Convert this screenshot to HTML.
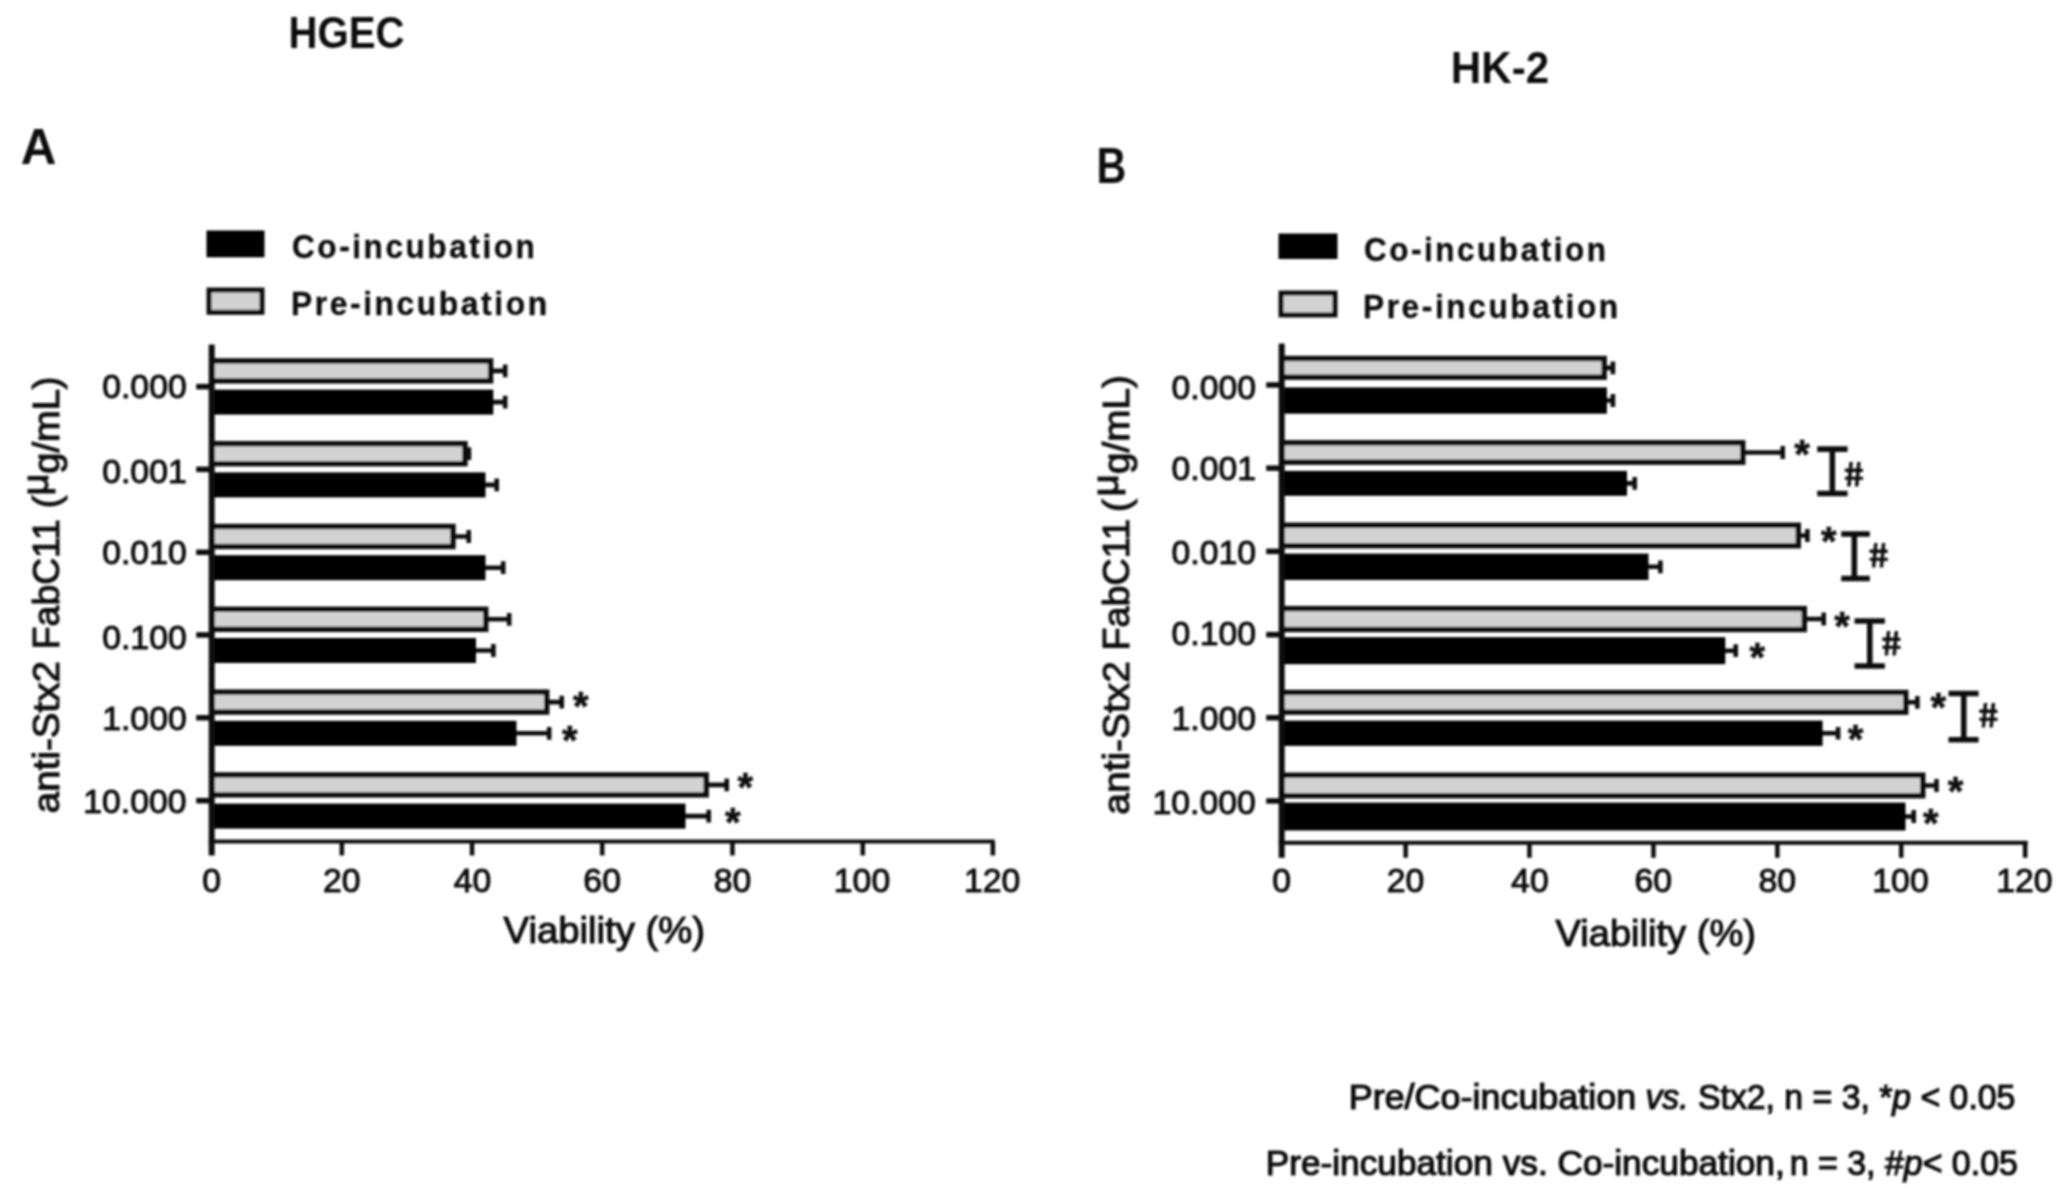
<!DOCTYPE html>
<html lang="en"><head><meta charset="utf-8"><title>Cell viability: HGEC and HK-2</title>
<style>
html,body{margin:0;padding:0;background:#fff;}
body{width:2070px;height:1196px;overflow:hidden;}
svg{display:block;font-family:"Liberation Sans", sans-serif;fill:#111;}
</style></head><body>
<svg width="2070" height="1196" viewBox="0 0 2070 1196">
<defs><filter id="bl" x="-2%" y="-2%" width="104%" height="104%"><feGaussianBlur stdDeviation="1.0"/></filter></defs>
<rect width="2070" height="1196" fill="#fff"/>
<g filter="url(#bl)">
<path d="M492.3 370.9H505.2M505.2 364.5V377.3" stroke="#111" stroke-width="4.6" fill="none"/>
<rect x="211.7" y="360.9" width="278.9" height="20.0" fill="#d2d2d2" stroke="#111" stroke-width="5.4"/>
<path d="M492.3 402.1H505.2M505.2 395.7V408.5" stroke="#111" stroke-width="4.6" fill="none"/>
<rect x="211.7" y="389.6" width="281.6" height="25.0" fill="#000"/>
<path d="M466.7 453.7H468.9M468.9 447.3V460.1" stroke="#111" stroke-width="4.6" fill="none"/>
<rect x="211.7" y="443.7" width="253.3" height="20.0" fill="#d2d2d2" stroke="#111" stroke-width="5.4"/>
<path d="M484.5 484.9H496.7M496.7 478.5V491.3" stroke="#111" stroke-width="4.6" fill="none"/>
<rect x="211.7" y="472.4" width="273.8" height="25.0" fill="#000"/>
<path d="M454.7 536.5H468.7M468.7 530.1V542.9" stroke="#111" stroke-width="4.6" fill="none"/>
<rect x="211.7" y="526.5" width="241.3" height="20.0" fill="#d2d2d2" stroke="#111" stroke-width="5.4"/>
<path d="M484.5 567.7H503.2M503.2 561.3V574.1" stroke="#111" stroke-width="4.6" fill="none"/>
<rect x="211.7" y="555.2" width="273.8" height="25.0" fill="#000"/>
<path d="M487.5 619.3H509.2M509.2 612.9V625.7" stroke="#111" stroke-width="4.6" fill="none"/>
<rect x="211.7" y="609.3" width="274.1" height="20.0" fill="#d2d2d2" stroke="#111" stroke-width="5.4"/>
<path d="M475.0 650.5H493.4M493.4 644.1V656.9" stroke="#111" stroke-width="4.6" fill="none"/>
<rect x="211.7" y="638.0" width="264.3" height="25.0" fill="#000"/>
<path d="M548.4 702.1H561.7M561.7 695.7V708.5" stroke="#111" stroke-width="4.6" fill="none"/>
<rect x="211.7" y="692.1" width="335.0" height="20.0" fill="#d2d2d2" stroke="#111" stroke-width="5.4"/>
<path d="M515.5 733.3H549.2M549.2 726.9V739.7" stroke="#111" stroke-width="4.6" fill="none"/>
<rect x="211.7" y="720.8" width="304.8" height="25.0" fill="#000"/>
<text transform="translate(573.10,720.20) scale(1.0000,1)" font-size="40.00" font-weight="bold" stroke="#111" stroke-width="0.6">*</text>
<text transform="translate(562.10,754.20) scale(1.0000,1)" font-size="40.00" font-weight="bold" stroke="#111" stroke-width="0.6">*</text>
<path d="M707.9 784.9H726.7M726.7 778.5V791.3" stroke="#111" stroke-width="4.6" fill="none"/>
<rect x="211.7" y="774.9" width="494.5" height="20.0" fill="#d2d2d2" stroke="#111" stroke-width="5.4"/>
<path d="M684.5 816.1H708.7M708.7 809.7V822.5" stroke="#111" stroke-width="4.6" fill="none"/>
<rect x="211.7" y="803.6" width="473.8" height="25.0" fill="#000"/>
<text transform="translate(737.50,801.00) scale(1.0000,1)" font-size="40.00" font-weight="bold" stroke="#111" stroke-width="0.6">*</text>
<text transform="translate(725.10,836.00) scale(1.0000,1)" font-size="40.00" font-weight="bold" stroke="#111" stroke-width="0.6">*</text>
<rect x="208.7" y="344.5" width="6" height="511.0" fill="#111"/>
<rect x="208.7" y="839.5" width="785.8" height="4" fill="#111"/>
<text transform="translate(202.24,892.16) scale(1.0000,1)" font-size="33.80" font-weight="normal" stroke="#111" stroke-width="1.0">0</text>
<rect x="339.6" y="841.5" width="4.5" height="14.0" fill="#111"/>
<text transform="translate(322.97,892.16) scale(1.0000,1)" font-size="33.80" font-weight="normal" stroke="#111" stroke-width="1.0">20</text>
<rect x="469.8" y="841.5" width="4.5" height="14.0" fill="#111"/>
<text transform="translate(453.68,892.16) scale(1.0000,1)" font-size="33.80" font-weight="normal" stroke="#111" stroke-width="1.0">40</text>
<rect x="600.0" y="841.5" width="4.5" height="14.0" fill="#111"/>
<text transform="translate(583.37,892.16) scale(1.0000,1)" font-size="33.80" font-weight="normal" stroke="#111" stroke-width="1.0">60</text>
<rect x="730.2" y="841.5" width="4.5" height="14.0" fill="#111"/>
<text transform="translate(713.74,892.16) scale(1.0000,1)" font-size="33.80" font-weight="normal" stroke="#111" stroke-width="1.0">80</text>
<rect x="860.5" y="841.5" width="4.5" height="14.0" fill="#111"/>
<text transform="translate(833.80,892.16) scale(1.0000,1)" font-size="33.80" font-weight="normal" stroke="#111" stroke-width="1.0">100</text>
<rect x="990.6" y="841.5" width="4.5" height="14.0" fill="#111"/>
<text transform="translate(964.00,892.16) scale(1.0000,1)" font-size="33.80" font-weight="normal" stroke="#111" stroke-width="1.0">120</text>
<rect x="196.2" y="383.9" width="13.5" height="5.5" fill="#111"/>
<text transform="translate(102.15,398.36) scale(1.0000,1)" font-size="33.80" font-weight="normal" stroke="#111" stroke-width="1.0">0.000</text>
<rect x="196.2" y="466.6" width="13.5" height="5.5" fill="#111"/>
<text transform="translate(102.15,482.96) scale(1.0000,1)" font-size="33.80" font-weight="normal" stroke="#111" stroke-width="1.0">0.001</text>
<rect x="196.2" y="549.5" width="13.5" height="5.5" fill="#111"/>
<text transform="translate(102.15,564.36) scale(1.0000,1)" font-size="33.80" font-weight="normal" stroke="#111" stroke-width="1.0">0.010</text>
<rect x="196.2" y="632.2" width="13.5" height="5.5" fill="#111"/>
<text transform="translate(102.15,648.66) scale(1.0000,1)" font-size="33.80" font-weight="normal" stroke="#111" stroke-width="1.0">0.100</text>
<rect x="196.2" y="715.0" width="13.5" height="5.5" fill="#111"/>
<text transform="translate(102.15,730.36) scale(1.0000,1)" font-size="33.80" font-weight="normal" stroke="#111" stroke-width="1.0">1.000</text>
<rect x="196.2" y="797.9" width="13.5" height="5.5" fill="#111"/>
<text transform="translate(83.22,812.66) scale(1.0000,1)" font-size="33.80" font-weight="normal" stroke="#111" stroke-width="1.0">10.000</text>
<rect x="206.5" y="230.5" width="58.0" height="26.80000000000001" fill="#000"/>
<rect x="209.0" y="290.0" width="53.0" height="22.30000000000001" fill="#d2d2d2" stroke="#111" stroke-width="5"/>
<text transform="translate(291.94,257.50) scale(0.9561,1)" font-size="33.00" font-weight="bold" font-style="normal" stroke="#111" stroke-width="0.4" letter-spacing="2.7" xml:space="preserve">Co-incubation</text>
<text transform="translate(290.98,314.50) scale(0.9630,1)" font-size="33.00" font-weight="bold" font-style="normal" stroke="#111" stroke-width="0.4" letter-spacing="2.7" xml:space="preserve">Pre-incubation</text>
<text transform="translate(503.52,942.70) scale(1.0274,1)" font-size="37.30" font-weight="normal" font-style="normal" stroke="#111" stroke-width="1.1" xml:space="preserve">Viability (%)</text>
<text transform="translate(58.50,813.24) rotate(-90) scale(1.0342,1)" font-size="37.30" font-weight="normal" font-style="normal" stroke="#111" stroke-width="1.1" xml:space="preserve">anti-Stx2</text>
<text transform="translate(58.50,649.19) rotate(-90) scale(1.0014,1)" font-size="37.30" font-weight="normal" font-style="normal" stroke="#111" stroke-width="1.1" xml:space="preserve">FabC11</text>
<text transform="translate(58.50,508.28) rotate(-90) scale(1.0202,1)" font-size="37.30" font-weight="normal" font-style="normal" stroke="#111" stroke-width="1.1" xml:space="preserve">(<tspan font-size="100%" dx="0" dy="-10.5">μ</tspan><tspan dy="10.5">g</tspan>/mL)</text>
<path d="M1605.9 367.9H1612.9M1612.9 361.5V374.2" stroke="#111" stroke-width="4.6" fill="none"/>
<rect x="1281.7" y="358.5" width="322.5" height="18.7" fill="#d2d2d2" stroke="#111" stroke-width="5.4"/>
<path d="M1605.9 400.5H1612.9M1612.9 394.1V406.9" stroke="#111" stroke-width="4.6" fill="none"/>
<rect x="1281.7" y="387.4" width="325.2" height="26.3" fill="#000"/>
<path d="M1744.5 452.5H1782.7M1782.7 446.1V458.9" stroke="#111" stroke-width="4.6" fill="none"/>
<rect x="1281.7" y="442.8" width="461.1" height="19.4" fill="#d2d2d2" stroke="#111" stroke-width="5.4"/>
<path d="M1626.0 483.4H1634.7M1634.7 477.0V489.8" stroke="#111" stroke-width="4.6" fill="none"/>
<rect x="1281.7" y="470.9" width="345.3" height="24.9" fill="#000"/>
<text transform="translate(1794.20,467.90) scale(1.0000,1)" font-size="40.00" font-weight="bold" stroke="#111" stroke-width="0.6">*</text>
<path d="M1800.0 535.5H1807.4M1807.4 529.1V541.9" stroke="#111" stroke-width="4.6" fill="none"/>
<rect x="1281.7" y="525.2" width="516.6" height="20.6" fill="#d2d2d2" stroke="#111" stroke-width="5.4"/>
<path d="M1647.5 566.8H1660.4M1660.4 560.4V573.2" stroke="#111" stroke-width="4.6" fill="none"/>
<rect x="1281.7" y="553.6" width="366.8" height="26.4" fill="#000"/>
<text transform="translate(1821.00,555.40) scale(1.0000,1)" font-size="40.00" font-weight="bold" stroke="#111" stroke-width="0.6">*</text>
<path d="M1806.0 619.0H1823.7M1823.7 612.6V625.4" stroke="#111" stroke-width="4.6" fill="none"/>
<rect x="1281.7" y="608.6" width="522.6" height="20.9" fill="#d2d2d2" stroke="#111" stroke-width="5.4"/>
<path d="M1724.3 650.7H1735.7M1735.7 644.3V657.1" stroke="#111" stroke-width="4.6" fill="none"/>
<rect x="1281.7" y="637.2" width="443.6" height="27.0" fill="#000"/>
<text transform="translate(1834.20,640.10) scale(1.0000,1)" font-size="40.00" font-weight="bold" stroke="#111" stroke-width="0.6">*</text>
<text transform="translate(1749.50,671.30) scale(1.0000,1)" font-size="40.00" font-weight="bold" stroke="#111" stroke-width="0.6">*</text>
<path d="M1907.5 702.3H1917.4M1917.4 695.9V708.7" stroke="#111" stroke-width="4.6" fill="none"/>
<rect x="1281.7" y="692.5" width="624.1" height="19.7" fill="#d2d2d2" stroke="#111" stroke-width="5.4"/>
<path d="M1821.6 733.2H1838.1M1838.1 726.9V739.6" stroke="#111" stroke-width="4.6" fill="none"/>
<rect x="1281.7" y="720.6" width="540.9" height="25.3" fill="#000"/>
<text transform="translate(1930.40,720.90) scale(1.0000,1)" font-size="40.00" font-weight="bold" stroke="#111" stroke-width="0.6">*</text>
<text transform="translate(1847.80,752.50) scale(1.0000,1)" font-size="40.00" font-weight="bold" stroke="#111" stroke-width="0.6">*</text>
<path d="M1924.5 785.5H1936.5M1936.5 779.1V791.9" stroke="#111" stroke-width="4.6" fill="none"/>
<rect x="1281.7" y="775.2" width="641.1" height="20.5" fill="#d2d2d2" stroke="#111" stroke-width="5.4"/>
<path d="M1904.5 816.5H1913.7M1913.7 810.1V822.9" stroke="#111" stroke-width="4.6" fill="none"/>
<rect x="1281.7" y="802.6" width="623.8" height="27.9" fill="#000"/>
<text transform="translate(1947.70,805.40) scale(1.0000,1)" font-size="40.00" font-weight="bold" stroke="#111" stroke-width="0.6">*</text>
<text transform="translate(1922.90,837.00) scale(1.0000,1)" font-size="40.00" font-weight="bold" stroke="#111" stroke-width="0.6">*</text>
<rect x="1278.7" y="343.5" width="6" height="514.3" fill="#111"/>
<rect x="1278.7" y="840.8" width="749.0" height="4" fill="#111"/>
<text transform="translate(1272.24,891.66) scale(1.0000,1)" font-size="33.80" font-weight="normal" stroke="#111" stroke-width="1.0">0</text>
<rect x="1403.4" y="842.8" width="4.5" height="15.0" fill="#111"/>
<text transform="translate(1386.67,891.66) scale(1.0000,1)" font-size="33.80" font-weight="normal" stroke="#111" stroke-width="1.0">20</text>
<rect x="1527.2" y="842.8" width="4.5" height="15.0" fill="#111"/>
<text transform="translate(1511.08,891.66) scale(1.0000,1)" font-size="33.80" font-weight="normal" stroke="#111" stroke-width="1.0">40</text>
<rect x="1651.2" y="842.8" width="4.5" height="15.0" fill="#111"/>
<text transform="translate(1634.47,891.66) scale(1.0000,1)" font-size="33.80" font-weight="normal" stroke="#111" stroke-width="1.0">60</text>
<rect x="1775.1" y="842.8" width="4.5" height="15.0" fill="#111"/>
<text transform="translate(1758.54,891.66) scale(1.0000,1)" font-size="33.80" font-weight="normal" stroke="#111" stroke-width="1.0">80</text>
<rect x="1899.0" y="842.8" width="4.5" height="15.0" fill="#111"/>
<text transform="translate(1872.30,891.66) scale(1.0000,1)" font-size="33.80" font-weight="normal" stroke="#111" stroke-width="1.0">100</text>
<rect x="2022.9" y="842.8" width="4.5" height="15.0" fill="#111"/>
<text transform="translate(1996.20,891.66) scale(1.0000,1)" font-size="33.80" font-weight="normal" stroke="#111" stroke-width="1.0">120</text>
<rect x="1266.2" y="382.2" width="13.5" height="5.5" fill="#111"/>
<text transform="translate(1171.45,398.66) scale(1.0000,1)" font-size="33.80" font-weight="normal" stroke="#111" stroke-width="1.0">0.000</text>
<rect x="1266.2" y="465.4" width="13.5" height="5.5" fill="#111"/>
<text transform="translate(1171.45,479.96) scale(1.0000,1)" font-size="33.80" font-weight="normal" stroke="#111" stroke-width="1.0">0.001</text>
<rect x="1266.2" y="548.6" width="13.5" height="5.5" fill="#111"/>
<text transform="translate(1171.45,564.36) scale(1.0000,1)" font-size="33.80" font-weight="normal" stroke="#111" stroke-width="1.0">0.010</text>
<rect x="1266.2" y="631.9" width="13.5" height="5.5" fill="#111"/>
<text transform="translate(1171.45,645.46) scale(1.0000,1)" font-size="33.80" font-weight="normal" stroke="#111" stroke-width="1.0">0.100</text>
<rect x="1266.2" y="715.0" width="13.5" height="5.5" fill="#111"/>
<text transform="translate(1171.45,729.86) scale(1.0000,1)" font-size="33.80" font-weight="normal" stroke="#111" stroke-width="1.0">1.000</text>
<rect x="1266.2" y="798.2" width="13.5" height="5.5" fill="#111"/>
<text transform="translate(1152.52,813.96) scale(1.0000,1)" font-size="33.80" font-weight="normal" stroke="#111" stroke-width="1.0">10.000</text>
<path d="M1817.2 449.1H1847.6M1817.2 493.5H1847.6M1832.3 449.1V493.5" stroke="#111" stroke-width="5.6" fill="none"/>
<text transform="translate(1845.80,486.20) scale(1.0000,1) skewX(7)" font-size="34.50" font-weight="bold" stroke="#111" stroke-width="0.9">#</text>
<path d="M1841.2 534.0H1869.8M1841.2 578.5H1869.8M1854.3 534.0V578.5" stroke="#111" stroke-width="5.6" fill="none"/>
<text transform="translate(1870.60,567.40) scale(1.0000,1) skewX(7)" font-size="34.50" font-weight="bold" stroke="#111" stroke-width="0.9">#</text>
<path d="M1854.5 621.0H1884.9M1854.5 666.0H1884.9M1869.8 621.0V666.0" stroke="#111" stroke-width="5.6" fill="none"/>
<text transform="translate(1883.30,655.10) scale(1.0000,1) skewX(7)" font-size="34.50" font-weight="bold" stroke="#111" stroke-width="0.9">#</text>
<path d="M1948.5 693.5H1978.6M1948.5 739.8H1978.6M1963.8 693.5V739.8" stroke="#111" stroke-width="5.6" fill="none"/>
<text transform="translate(1980.20,726.90) scale(1.0000,1) skewX(7)" font-size="34.50" font-weight="bold" stroke="#111" stroke-width="0.9">#</text>
<rect x="1278.5" y="233.5" width="59.0" height="25.5" fill="#000"/>
<rect x="1281.0" y="293.0" width="54.0" height="22.0" fill="#d2d2d2" stroke="#111" stroke-width="5"/>
<text transform="translate(1363.94,260.50) scale(0.9522,1)" font-size="33.00" font-weight="bold" font-style="normal" stroke="#111" stroke-width="0.4" letter-spacing="2.7" xml:space="preserve">Co-incubation</text>
<text transform="translate(1362.98,317.50) scale(0.9592,1)" font-size="33.00" font-weight="bold" font-style="normal" stroke="#111" stroke-width="0.4" letter-spacing="2.7" xml:space="preserve">Pre-incubation</text>
<text transform="translate(1555.52,946.00) scale(1.0223,1)" font-size="37.30" font-weight="normal" font-style="normal" stroke="#111" stroke-width="1.1" xml:space="preserve">Viability (%)</text>
<text transform="translate(1128.50,814.66) rotate(-90) scale(1.0439,1)" font-size="37.30" font-weight="normal" font-style="normal" stroke="#111" stroke-width="1.1" xml:space="preserve">anti-Stx2</text>
<text transform="translate(1128.50,650.62) rotate(-90) scale(1.0125,1)" font-size="37.30" font-weight="normal" font-style="normal" stroke="#111" stroke-width="1.1" xml:space="preserve">FabC11</text>
<text transform="translate(1128.50,511.93) rotate(-90) scale(1.0390,1)" font-size="37.30" font-weight="normal" font-style="normal" stroke="#111" stroke-width="1.1" xml:space="preserve">(<tspan font-size="100%" dx="2.5" dy="-10.5">μ</tspan><tspan dy="10.5">g</tspan>/mL)</text>
<text transform="translate(288.39,48.20) scale(0.9215,1)" font-size="43.60" font-weight="bold" font-style="normal"  xml:space="preserve">HGEC</text>
<text transform="translate(20.72,164.20) scale(0.9918,1)" font-size="49.80" font-weight="bold" font-style="normal"  xml:space="preserve">A</text>
<text transform="translate(1450.85,83.30) scale(0.9359,1)" font-size="45.00" font-weight="bold" font-style="normal"  xml:space="preserve">HK-2</text>
<text transform="translate(1096.61,182.80) scale(0.8262,1)" font-size="50.00" font-weight="bold" font-style="normal"  xml:space="preserve">B</text>
<text transform="translate(1348.73,1108.50) scale(1.0505,1)" font-size="34.20" font-weight="normal" font-style="normal" stroke="#111" stroke-width="1.2" xml:space="preserve">Pre/Co-incubation</text>
<text transform="translate(1645.47,1108.50) scale(0.9877,1)" font-size="34.20" font-weight="normal" font-style="normal" stroke="#111" stroke-width="1.2" xml:space="preserve"><tspan font-style="italic">vs.</tspan> Stx2, n = 3, *<tspan font-style="italic">p</tspan> &lt; 0.05</text>
<text transform="translate(1265.68,1174.60) scale(1.0304,1)" font-size="34.20" font-weight="normal" font-style="normal" stroke="#111" stroke-width="1.2" xml:space="preserve">Pre-incubation vs. Co-incubation,</text>
<text transform="translate(1789.73,1174.60) scale(0.9916,1)" font-size="34.20" font-weight="normal" font-style="normal" stroke="#111" stroke-width="1.2" xml:space="preserve">n = 3, #<tspan font-style="italic">p</tspan>&lt; 0.05</text>
</g>
</svg>
</body></html>
